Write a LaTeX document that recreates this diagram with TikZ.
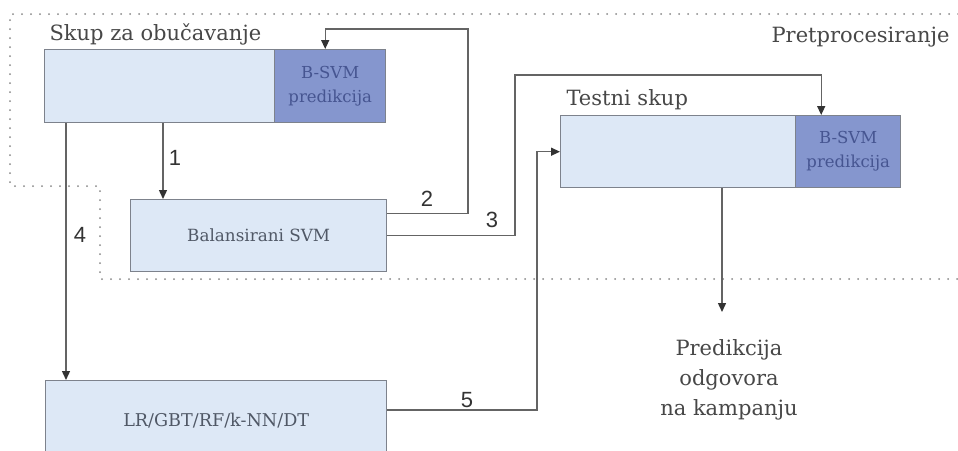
\documentclass[tikz,border=0pt]{standalone}
\usepackage{fontspec}
\setmainfont{DejaVu Serif}
\newfontfamily\numfont{Liberation Sans}
\usetikzlibrary{arrows.meta}
\definecolor{lightfill}{RGB}{221,232,246}
\definecolor{darkfill}{RGB}{133,150,206}
\definecolor{boxline}{RGB}{125,130,140}
\definecolor{lineclr}{RGB}{100,100,100}
\definecolor{txt}{RGB}{80,88,102}
\definecolor{dtxt}{RGB}{70,85,145}
\definecolor{dotclr}{RGB}{135,135,135}
\begin{document}
\begin{tikzpicture}[x=1pt,y=-1pt,
 lbox/.style={draw=boxline,line width=1.4pt,fill=lightfill,anchor=north west,inner sep=0pt,text=txt},
 dbox/.style={draw=boxline,line width=1.4pt,fill=darkfill,anchor=north west,inner sep=0pt,text=dtxt,align=center,font=\fontsize{16.5}{24}\selectfont},
 arr/.style={draw=lineclr,line width=1.4pt,-{Triangle[length=9pt,width=8pt,color=black!80]}},
 num/.style={font=\numfont\fontsize{22}{22}\selectfont,text=black!80},
 lbl/.style={font=\fontsize{21}{25}\selectfont,text=black!72}]
\useasboundingbox (0,0) rectangle (958,450);
\clip (0,0) rectangle (958,450);
\fill[white] (0,0) rectangle (958,450);
% dotted region
\draw[dotclr,line width=2pt,line cap=round,dash pattern=on 0pt off 9pt] (958,14) -- (10,14) -- (10,186) -- (100,186) -- (100,279) -- (958,279);
% boxes
\node[lbox,minimum width=230pt,minimum height=73pt] (train) at (44,49) {};
\node[dbox,minimum width=111pt,minimum height=73pt] (trainp) at (274,49) {B-SVM\\predikcija};
\node[lbox,minimum width=256pt,minimum height=72pt,font=\fontsize{16.8}{18}\selectfont] (bsvm) at (130,199) {Balansirani SVM};
\node[lbox,minimum width=235pt,minimum height=72pt] (test) at (560,115) {};
\node[dbox,minimum width=105pt,minimum height=72pt] (testp) at (795,115) {B-SVM\\predikcija};
\node[lbox,minimum width=341pt,minimum height=80pt,font=\fontsize{17.6}{18}\selectfont] (lr) at (45,380) {LR/GBT/RF/k-NN/DT};
% labels
\node[lbl,anchor=base west] (trainlbl) at (46,40) {Skup za obučavanje};
\node[lbl,anchor=base west] (testlbl) at (563,105) {Testni skup};
\node[lbl,anchor=base east] (prelbl) at (953,42) {Pretprocesiranje};
\node[lbl,align=center,font=\fontsize{21}{30}\selectfont] (pred) at (729,380) {Predikcija\\odgovora\\na kampanju};
% bend points
\coordinate (c2) at (468,29);
\coordinate (c3) at (515,75);
\coordinate (c5) at (537,410);
\coordinate (c6) at (722,312);
% connectors
\draw[arr] ([xshift=33pt]bsvm.north west |- train.south) -- ([xshift=33pt]bsvm.north west);
\draw[arr] ([yshift=22pt]bsvm.east) -| (c2) -| ([xshift=-5pt]trainp.north);
\draw[arr] (bsvm.east) -| (c3) -| ([xshift=-27pt]testp.north);
\draw[arr] ([xshift=22pt]train.south west) -- ([xshift=22pt]train.south west |- lr.north);
\draw[arr] (lr.east |- c5) -- (c5) |- (test.west);
\draw[arr] (test.south -| c6) -- (c6);
% numbers
\node[num] (n1) at (175,158) {1};
\node[num] (n2) at (427,199) {2};
\node[num] (n3) at (492,220) {3};
\node[num] (n4) at (80,235) {4};
\node[num] (n5) at (467,400) {5};
\end{tikzpicture}
\end{document}
